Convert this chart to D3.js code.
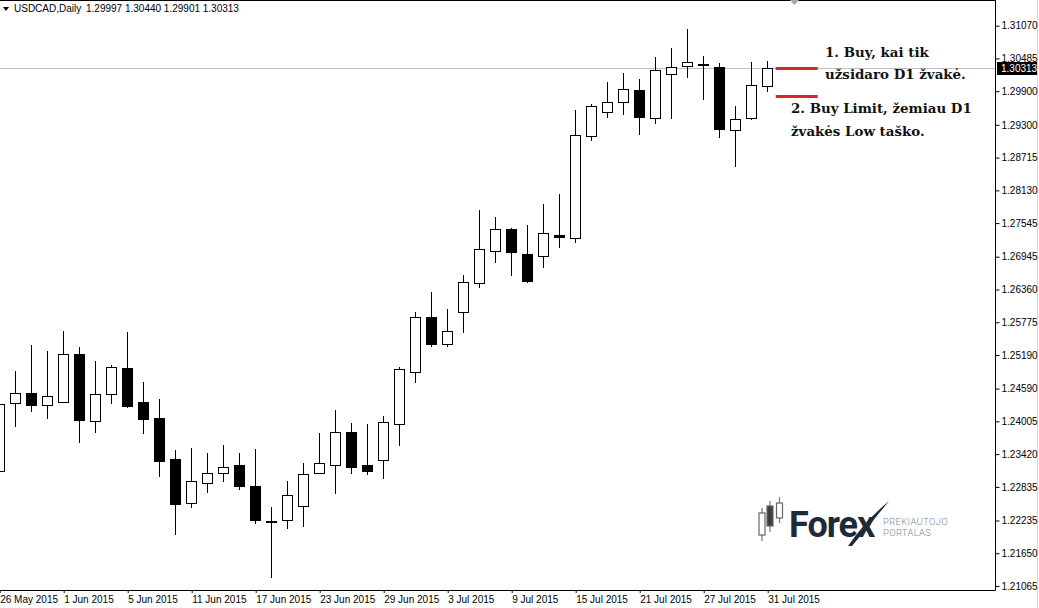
<!DOCTYPE html>
<html><head><meta charset="utf-8">
<script src="https://cdn.jsdelivr.net/npm/d3@7"></script>
<style>html,body{margin:0;padding:0;background:#fff;overflow:hidden}</style>
</head><body>
<svg id="c" width="1039" height="608"></svg>
<script>
// ---------------- DATA ----------------
const symbol = "USDCAD,Daily";
const dates = ["2015-05-26","2015-05-27","2015-05-28","2015-05-29",
  "2015-06-01","2015-06-02","2015-06-03","2015-06-04","2015-06-05",
  "2015-06-08","2015-06-09","2015-06-10","2015-06-11","2015-06-12",
  "2015-06-15","2015-06-16","2015-06-17","2015-06-18","2015-06-19",
  "2015-06-22","2015-06-23","2015-06-24","2015-06-25","2015-06-26",
  "2015-06-29","2015-06-30","2015-07-01","2015-07-02","2015-07-03",
  "2015-07-06","2015-07-07","2015-07-08","2015-07-09","2015-07-10",
  "2015-07-13","2015-07-14","2015-07-15","2015-07-16","2015-07-17",
  "2015-07-20","2015-07-21","2015-07-22","2015-07-23","2015-07-24",
  "2015-07-27","2015-07-28","2015-07-29","2015-07-30","2015-07-31"];
const open = [1.23118,1.24327,1.24511,1.24302,1.24356,1.25202,1.24006,1.24488,1.24952,
  1.24350,1.24059,1.23327,1.22541,1.22899,1.23088,1.23225,1.22850,1.22234,1.22238,
  1.22488,1.23077,1.23220,1.23815,1.23225,1.23309,1.23952,1.24881,1.25863,1.25381,
  1.25952,1.26470,1.27041,1.27434,1.26993,1.26952,1.27333,1.27274,1.29095,1.29534,
  1.29702,1.29916,1.29413,1.30216,1.30345,1.30386,1.30327,1.29208,1.29427,1.29997];
const high = [1.24400,1.24904,1.25368,1.25261,1.25618,1.25338,1.25082,1.25011,1.25600,
  1.24708,1.24404,1.23488,1.23534,1.23445,1.23583,1.23440,1.23511,1.22475,1.22940,
  1.23256,1.23802,1.24208,1.23975,1.23958,1.24100,1.24981,1.25958,1.26315,1.26011,
  1.26618,1.27779,1.27654,1.27449,1.27511,1.27886,1.28065,1.29565,1.29672,1.30059,
  1.30220,1.30113,1.30506,1.30666,1.31011,1.30529,1.30399,1.29641,1.30416,1.30440];
const low = [1.23040,1.23927,1.24195,1.24070,1.24345,1.23641,1.23820,1.24338,1.24256,
  1.23802,1.23034,1.21988,1.22481,1.22749,1.22945,1.22802,1.22184,1.21231,1.22106,
  1.22141,1.23077,1.22731,1.23088,1.23070,1.22999,1.23588,1.24713,1.25356,1.25356,
  1.25606,1.26409,1.26856,1.26618,1.26499,1.26766,1.27124,1.27202,1.29024,1.29445,
  1.29499,1.29141,1.29338,1.29427,1.30149,1.29766,1.29088,1.28565,1.29399,1.29901];
const close = [1.24309,1.24511,1.24302,1.24452,1.25202,1.24024,1.24488,1.24970,1.24284,
  1.24052,1.23302,1.22524,1.22934,1.23077,1.23184,1.22856,1.22243,1.22216,1.22684,
  1.23059,1.23256,1.23815,1.23195,1.23124,1.23988,1.24934,1.25863,1.25391,1.25613,
  1.26488,1.27077,1.27434,1.27024,1.26516,1.27363,1.27291,1.29113,1.29631,1.29702,
  1.29934,1.29434,1.30274,1.30324,1.30416,1.30368,1.29220,1.29409,1.30006,1.30313];
const yTickValues = [1.31070,1.30485,1.29900,1.29300,1.28715,1.28130,1.27545,1.26945,
  1.26360,1.25775,1.25190,1.24590,1.24005,1.23420,1.22835,1.22235,1.21650,1.21065];
const xTickDates = ["2015-05-26","2015-06-01","2015-06-05","2015-06-11","2015-06-17",
  "2015-06-23","2015-06-29","2015-07-03","2015-07-09","2015-07-15","2015-07-21",
  "2015-07-27","2015-07-31"];
const orderLevels = [1.30313, 1.29809];           // 1. Buy (close), 2. Buy Limit
const note1 = ["1. Buy, kai tik", "užsidaro D1 žvakė."];
const note2 = ["2. Buy Limit, žemiau D1", "žvakės Low taško."];

// ---------------- CHART ----------------
const svg = d3.select("#c");
const AX = 995.5, BOT = 590.5;
const x = d3.scalePoint().domain(dates).range([-0.3, 767.7]);
const y = d3.scaleLinear().domain([1.21065, 1.31070]).range([586, 25.7]);
const cx = d => Math.floor(x(d)) + 0.5;
const ry = v => Math.round(y(v));
const sans = "'Liberation Sans', Arial, sans-serif";

// current price line
const last = close.length - 1;
const pY = ry(close[last]) + 0.5;
svg.append("line").attr("x1", 0).attr("x2", AX).attr("y1", pY).attr("y2", pY)
  .attr("stroke", "#c0c0c0").attr("stroke-width", 1);

// candles
const bars = dates.map((d, i) => ({d, o: open[i], h: high[i], l: low[i], c: close[i]}));
const g = svg.append("g").attr("shape-rendering", "crispEdges");
g.selectAll("line.w").data(bars).join("line").attr("class", "w")
  .attr("x1", b => cx(b.d)).attr("x2", b => cx(b.d))
  .attr("y1", b => ry(b.h)).attr("y2", b => ry(b.l) + 1)
  .attr("stroke", "#000");
g.selectAll("rect.b").data(bars).join("rect").attr("class", "b")
  .attr("x", b => cx(b.d) - 5)
  .attr("y", b => ry(Math.max(b.o, b.c)) + 0.5)
  .attr("width", 10)
  .attr("height", b => Math.max(1, ry(Math.min(b.o, b.c)) - ry(Math.max(b.o, b.c))))
  .attr("fill", b => b.c >= b.o ? "#fff" : "#000")
  .attr("stroke", "#000");

// frame
svg.append("line").attr("x1", 0).attr("x2", AX).attr("y1", 0.5).attr("y2", 0.5).attr("stroke", "#000");
svg.append("line").attr("x1", AX).attr("x2", AX).attr("y1", 0).attr("y2", BOT).attr("stroke", "#000");
svg.append("line").attr("x1", 0).attr("x2", AX).attr("y1", BOT).attr("y2", BOT).attr("stroke", "#000");
svg.append("line").attr("x1", 1037.5).attr("x2", 1037.5).attr("y1", 0).attr("y2", 608).attr("stroke", "#d8d8d8");

// shift marker
svg.append("polygon").attr("points", "790,0 799,0 794.5,5").attr("fill", "#a8a8a8");

// y axis
const yAxis = svg.append("g").attr("transform", `translate(${AX},0)`)
  .call(d3.axisRight(y).tickValues(yTickValues).tickFormat(d3.format(".5f")).tickSize(4).tickSizeOuter(0));
yAxis.select(".domain").remove();
yAxis.selectAll("text").attr("font-family", sans).attr("font-size", 10).attr("fill", "#000").attr("x", 6);
yAxis.selectAll("line").attr("stroke", "#000");

// x axis
const fmt = d3.timeFormat("%-d %b %Y"), parse = d3.timeParse("%Y-%m-%d");
const xAxis = svg.append("g").attr("transform", `translate(0,${BOT - 0.5})`)
  .call(d3.axisBottom(x).tickValues(xTickDates).tickFormat(d => fmt(parse(d))).tickSize(3).tickSizeOuter(0));
xAxis.select(".domain").remove();
xAxis.selectAll("text").attr("font-family", sans).attr("font-size", 10).attr("fill", "#000")
  .attr("text-anchor", "start").attr("x", 0);
xAxis.selectAll("line").attr("stroke", "#000");

// current price tag
svg.append("rect").attr("x", 997).attr("y", pY - 6.5).attr("width", 40).attr("height", 13).attr("fill", "#000");
svg.append("text").attr("x", 1001).attr("y", pY + 3.5).attr("font-family", sans).attr("font-size", 10)
  .attr("fill", "#fff").text(d3.format(".5f")(close[last]));

// header
svg.append("polygon").attr("points", "3,7 9,7 6,11").attr("fill", "#000");
svg.append("text").attr("x", 14).attr("y", 12).attr("font-family", sans).attr("font-size", 10)
  .text(symbol);
svg.append("text").attr("x", 86).attr("y", 12).attr("font-family", sans).attr("font-size", 10)
  .text([open[last], high[last], low[last], close[last]].map(d3.format(".5f")).join(" "));

// order lines
const lx = x(dates[last]);
orderLevels.forEach(v => {
  const yy = Math.round(y(v)) + 0.5;
  svg.append("line").attr("x1", lx + 8).attr("x2", lx + 50).attr("y1", yy).attr("y2", yy)
    .attr("stroke", "#d9262b").attr("stroke-width", 3);
});

// notes
const serif = "'DejaVu Serif', Georgia, serif";
function note(lines, x0, y0) {
  const t = svg.append("text").attr("font-family", serif).attr("font-weight", "bold")
    .attr("font-size", 13.4).attr("fill", "#111");
  lines.forEach((s, i) => t.append("tspan").attr("x", x0).attr("y", y0 + i * 22.5).text(s));
}
note(note1, 825, 56.5);
note(note2, 791, 113);

// logo
const logo = svg.append("g");
[[762, 508, 541, 513, 535, "#fff"], [770, 501, 532, 506, 526, "#3a3f46"], [779.5, 497, 523, 503, 518, "#fff"]]
  .forEach(([lxp, h, l, t, b, f]) => {
    logo.append("line").attr("x1", lxp).attr("x2", lxp).attr("y1", h).attr("y2", l).attr("stroke", "#777").attr("stroke-width", 1.2);
    logo.append("rect").attr("x", lxp - 3).attr("y", t).attr("width", 6).attr("height", b - t)
      .attr("fill", f).attr("stroke", "#666").attr("stroke-width", 1.2);
  });
logo.append("text").attr("x", 789).attr("y", 537).attr("font-family", "Roboto, sans-serif")
  .attr("font-weight", 700).attr("font-size", 36).attr("letter-spacing", -1).attr("fill", "#1e2a38").text("Forex");
logo.append("path").attr("d", "M848,546 Q866,520 889,501 Q872,522 852,546 Z").attr("fill", "#1e2a38");
logo.append("text").attr("x", 883).attr("y", 524.5).attr("font-family", "Roboto, sans-serif").attr("font-weight", 300)
  .attr("font-size", 9.5).attr("letter-spacing", 0.3).attr("fill", "#858a90").text("PREKIAUTOJO");
logo.append("text").attr("x", 883).attr("y", 536).attr("font-family", "Roboto, sans-serif").attr("font-weight", 300)
  .attr("font-size", 9.5).attr("letter-spacing", 0.3).attr("fill", "#858a90").text("PORTALAS");
</script>
</body></html>
